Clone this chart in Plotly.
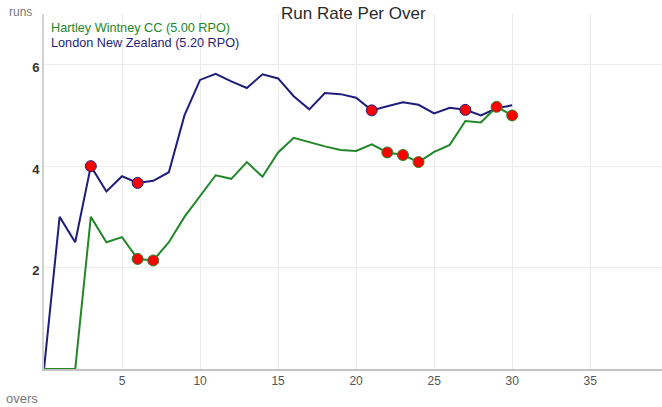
import plotly.graph_objects as go

# Run rate after each over
overs = list(range(0, 31))
hw_rate = [0, 0, 0, 3.0, 2.5, 2.6, 2.17, 2.14, 2.5, 3.0,
           3.4, 3.82, 3.75, 4.08, 3.79, 4.27, 4.56, 4.47, 4.39, 4.32,
           4.3, 4.43, 4.27, 4.22, 4.08, 4.28, 4.42, 4.89, 4.86, 5.17, 5.0]
lnz_rate = [0, 3.0, 2.5, 4.0, 3.5, 3.8, 3.67, 3.71, 3.88, 5.0,
            5.7, 5.82, 5.67, 5.54, 5.81, 5.73, 5.38, 5.12, 5.44, 5.42,
            5.35, 5.1, 5.18, 5.26, 5.21, 5.04, 5.15, 5.11, 5.0, 5.14, 5.2]

# Overs in which wickets fell
hw_wickets = [6, 7, 22, 23, 24, 29, 30]
lnz_wickets = [3, 6, 21, 27]

team_names = ['Hartley Wintney CC (5.00 RPO)', 'London New Zealand (5.20 RPO)']
x_ticks = [5, 10, 15, 20, 25, 30, 35]
y_ticks = [2, 4, 6]

GREEN = '#23872a'
NAVY = '#1e1e7a'
FONT = 'Liberation Sans, Arial, sans-serif'

fig = go.Figure()

series = [
    (lnz_rate, lnz_wickets, NAVY),
    (hw_rate, hw_wickets, GREEN),
]

for rates, wickets, colour in series:
    fig.add_trace(go.Scatter(
        x=overs, y=rates, mode='lines',
        line=dict(color=colour, width=2),
        showlegend=False, hoverinfo='skip'
    ))

for rates, wickets, colour in series:
    fig.add_trace(go.Scatter(
        x=wickets, y=[rates[o] for o in wickets], mode='markers',
        marker=dict(color='#ff0000', size=11, line=dict(color=colour, width=1)),
        showlegend=False
    ))

annotations = [
    dict(text='Run Rate Per Over', x=0.5, y=1, xref='paper', yref='paper',
         xanchor='center', yanchor='middle', yshift=1, showarrow=False,
         font=dict(size=17, color='#2a2a2a', family=FONT)),
    dict(text='runs', x=0, y=1, xref='paper', yref='paper',
         xanchor='left', yanchor='middle', xshift=-37, yshift=2, showarrow=False,
         font=dict(size=12, color='#777777', family=FONT)),
    dict(text='overs', x=0, y=0, xref='paper', yref='paper',
         xanchor='left', yanchor='middle', xshift=-40, yshift=-29, showarrow=False,
         font=dict(size=13, color='#777777', family=FONT)),
]
for i, (name, colour) in enumerate(zip(team_names, [GREEN, NAVY])):
    annotations.append(dict(
        text=name, x=0, y=1, xref='paper', yref='paper',
        xanchor='left', yanchor='middle', xshift=5, yshift=-14 - 15 * i,
        showarrow=False, font=dict(size=12.7, color=colour, family=FONT, weight=500)
    ))

fig.update_layout(
    width=662, height=407,
    margin=dict(l=44, r=0, t=14, b=38),
    plot_bgcolor='white', paper_bgcolor='white',
    font=dict(family=FONT),
    annotations=annotations,
    xaxis=dict(
        range=[0, 39.6], tickvals=x_ticks, showgrid=True, gridcolor='#ececec',
        zeroline=False, showline=True, linecolor='#c4c4c4', linewidth=1.5,
        tickfont=dict(size=12, color='#555555'), automargin=False
    ),
    yaxis=dict(
        range=[0, 7], tickvals=y_ticks, showgrid=True, gridcolor='#ececec',
        zeroline=False, showline=True, linecolor='#d2d2d2', linewidth=2,
        tickfont=dict(size=13, color='#333333', family=FONT, weight='bold'),
        ticklabelshift=3, automargin=False
    ),
)

# drop the browser's default body margin so the figure sits at the window corner
fig.write_html('out.html', config={'displayModeBar': False},
               post_script="document.body.style.margin='0';")
